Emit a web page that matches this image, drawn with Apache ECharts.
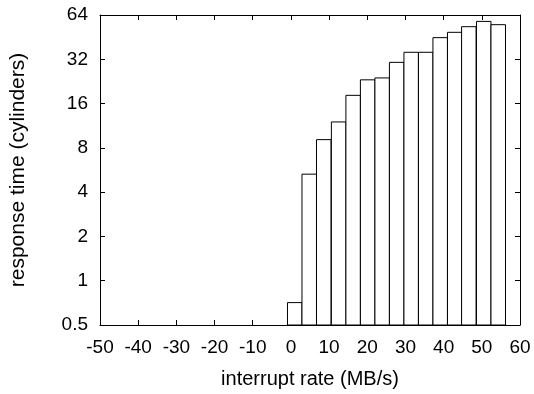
<!DOCTYPE html>
<html>
<head>
<meta charset="utf-8">
<script src="https://cdn.jsdelivr.net/npm/echarts@6/dist/echarts.min.js"></script>
<style>
  html, body { margin: 0; padding: 0; background: #fff; }
  #chart { width: 534px; height: 394px; }
</style>
</head>
<body>
<div id="chart"></div>
<script>
// bar centres (MB/s) and heights (cylinders)
const rates = [1.0, 4.8, 8.6, 12.5, 16.3, 20.1, 23.9, 27.7, 31.5, 35.3, 39.1, 42.9, 46.6, 50.5, 54.3]
const responseTimes = [0.71, 5.3, 9.1, 12.0, 18.2, 23.2, 23.9, 30.5, 35.7, 35.7, 44.9, 48.8, 53.3, 57.9, 55.0]
const barWidth = 3.8

const xTicks = [-50, 60, 10] // min, max, step
const yTicks = [0.5, 64]

const chart = echarts.init(document.getElementById('chart'))
const font = 'Liberation Sans, Arial, sans-serif'

const line = { show: true, onZero: false, lineStyle: { color: '#000', width: 1 } }
const tick = { show: true, inside: true, length: 5, lineStyle: { color: '#000' } }

const option = {
  animation: false,
  grid: { left: 100, right: 14, top: 15, bottom: 69 },
  xAxis: [
    {
      type: 'value',
      min: xTicks[0],
      max: xTicks[1],
      interval: xTicks[2],
      name: 'interrupt rate (MB/s)',
      nameLocation: 'middle',
      nameGap: 44,
      nameTextStyle: { color: '#000', fontSize: 20, fontFamily: font },
      axisLine: line,
      axisTick: tick,
      axisLabel: { color: '#000', fontSize: 19, fontFamily: font, margin: 13 },
      splitLine: { show: false }
    },
    {
      type: 'value',
      position: 'top',
      min: xTicks[0],
      max: xTicks[1],
      interval: xTicks[2],
      axisLine: line,
      axisTick: tick,
      axisLabel: { show: false },
      splitLine: { show: false }
    }
  ],
  yAxis: [
    {
      type: 'log',
      logBase: 2,
      min: yTicks[0],
      max: yTicks[1],
      interval: 1,
      name: 'response time (cylinders)',
      nameLocation: 'middle',
      nameGap: 71,
      nameTextStyle: { color: '#000', fontSize: 21, fontFamily: font },
      axisLine: line,
      axisTick: tick,
      axisLabel: {
        color: '#000', fontSize: 19, fontFamily: font, margin: 12,
        formatter: function (v) { return String(Math.round(v * 10) / 10) }
      },
      splitLine: { show: false }
    },
    {
      type: 'log',
      logBase: 2,
      position: 'right',
      min: yTicks[0],
      max: yTicks[1],
      interval: 1,
      axisLine: line,
      axisTick: tick,
      axisLabel: { show: false },
      splitLine: { show: false }
    }
  ],
  series: [
    {
      type: 'custom',
      xAxisIndex: 0,
      yAxisIndex: 0,
      data: rates.map((r, i) => [r, responseTimes[i]]),
      renderItem: function (params, api) {
        const x = api.value(0)
        const y = api.value(1)
        const p1 = api.coord([x - barWidth / 2, y])
        const p2 = api.coord([x + barWidth / 2, yTicks[0]])
        return {
          type: 'rect',
          shape: { x: p1[0], y: p1[1], width: p2[0] - p1[0], height: p2[1] - p1[1] },
          style: { fill: '#fff', stroke: '#000', lineWidth: 1 }
        }
      }
    }
  ]
}

chart.setOption(option)
</script>
</body>
</html>
